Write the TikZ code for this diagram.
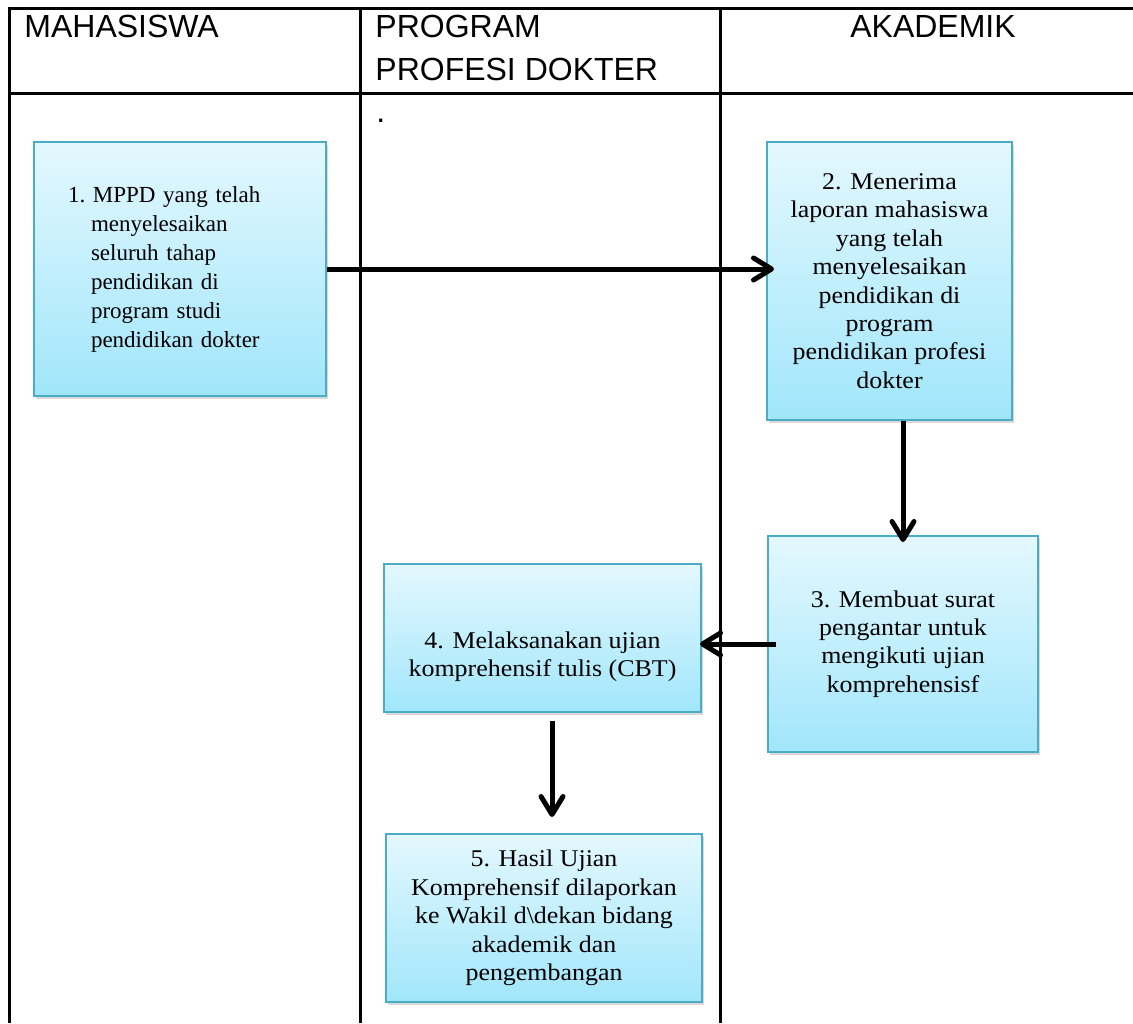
\documentclass[tikz,border=0pt]{standalone}
\usepackage{fontspec}
\setmainfont{Liberation Serif}
\newfontfamily\headfont{Liberation Sans}
\newfontfamily\stepfont[FakeStretch=1.08]{Liberation Serif}
\usetikzlibrary{calc,positioning,arrows.meta,shadows}
\definecolor{boxtop}{RGB}{228,248,254}
\definecolor{boxbot}{RGB}{161,230,251}
\definecolor{boxline}{RGB}{75,172,198}
\tikzset{
  lane/.style={line width=1.5pt},
  head/.style={font=\headfont\fontsize{16}{21.5}\selectfont, inner sep=0pt, align=left},
  stepbox/.style={draw=boxline, line width=1pt, top color=boxtop, bottom color=boxbot,
    drop shadow={shadow xshift=1.2pt, shadow yshift=-1.4pt, opacity=0.3},
    align=center, inner sep=0pt, font=\stepfont\fontsize{12}{14.2}\selectfont},
  flow/.style={line width=2.5pt, -{Straight Barb[length=9pt,width=11pt,round]}}
}
\begin{document}
\begin{tikzpicture}[x=0.5pt,y=-0.5pt]
\useasboundingbox (0,0) rectangle (1133,1023);
% lanes
\draw[lane] (9,1023) -- (9,8) -- (1133,8);
\draw[lane] (9,93) -- (1133,93);
\draw[lane] (360,8) -- (360,1023);
\draw[lane] (720,8) -- (720,1023);
\node[head, anchor=north west] (mhs) at (24,15) {MAHASISWA};
\node[head, anchor=north west] (ppd) at (375,15) {PROGRAM\\PROFESI DOKTER};
\node[head, anchor=north] (akd) at (933,15) {AKADEMIK};
\node[head, anchor=base west] (dot) at (376,122) {.};
% steps
\node[stepbox, minimum width=146pt, minimum height=127pt, align=left, text width=112pt,
      font=\rmfamily\fontsize{11.5}{14.5}\selectfont] (b1) at (180,269)
  {1.~MPPD yang telah\\\hspace*{11.5pt}menyelesaikan\\\hspace*{11.5pt}seluruh tahap\\
   \hspace*{11.5pt}pendidikan di\\\hspace*{11.5pt}program studi\\\hspace*{11.5pt}pendidikan dokter};
\node[stepbox, minimum width=122.5pt, minimum height=139pt] (b2) at (889.5,281)
  {2. Menerima\\laporan mahasiswa\\yang telah\\menyelesaikan\\pendidikan di\\program\\pendidikan profesi\\dokter};
\node[stepbox, minimum width=135pt, minimum height=108pt] (b3) at (903,644)
  {3. Membuat surat\\pengantar untuk\\mengikuti ujian\\komprehensisf};
\node[stepbox, minimum width=158.5pt, minimum height=74pt] (b4) at (542.5,638)
  {\rule{0pt}{27pt}4. Melaksanakan ujian\\komprehensif tulis (CBT)};
\node[stepbox, minimum width=158pt, minimum height=84pt] (b5) at (544,918)
  {5. Hasil Ujian\\Komprehensif dilaporkan\\ke Wakil d\textbackslash dekan bidang\\akademik dan\\pengembangan};
% arrows
\draw[flow, shorten >=-4pt] (b1.east) -- (b1.east -| b2.west);
\draw[flow, shorten >=-3.5pt] (b3.north |- b2.south) -- (b3.north);
\draw[flow, shorten <=-4.5pt, shorten >=-1pt] (b3.west) -- (b3.west -| b4.east);
\coordinate (c45) at ($(b4.south)+(9.5,0)$);
\draw[flow, shorten <=4pt, shorten >=8pt] (c45) -- (c45 |- b5.north);
\end{tikzpicture}
\end{document}
